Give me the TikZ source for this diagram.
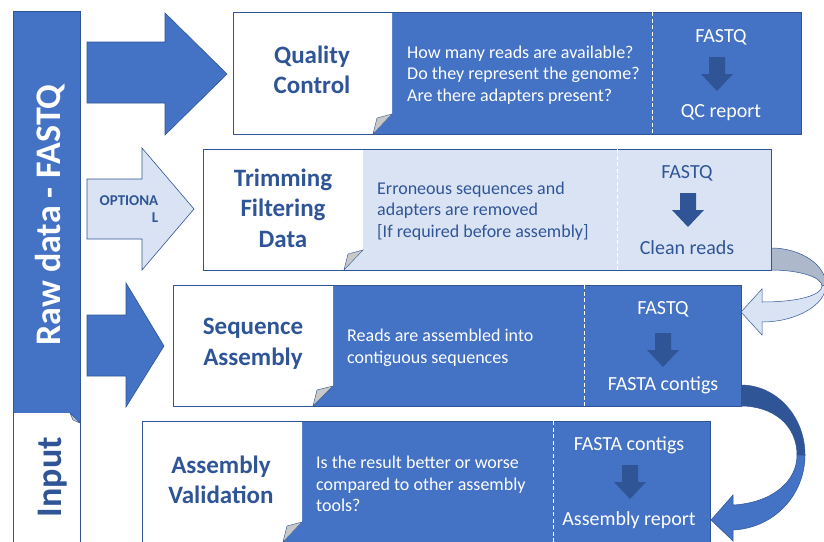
\documentclass[tikz,border=0pt]{standalone}
\usepackage{fontspec}
\setmainfont{Carlito}
\definecolor{officeblue}{HTML}{4472C4}
\definecolor{navy}{HTML}{2F5597}
\definecolor{paleblue}{HTML}{DAE3F3}
\definecolor{foldgrey}{HTML}{C8C8C8}
\definecolor{backgrey}{HTML}{ADB9CA}
\tikzset{
	rowbox/.style = {draw = navy, line width = .8pt},
	fold/.style = {fill = foldgrey, draw = navy, line width = .4pt},
	sepline/.style = {draw = white, dash pattern = on 4pt off 2.5pt, line width = .9pt},
	heading/.style = {font = \fontsize{25}{30.5}\selectfont\bfseries, text = navy, align = center},
	question/.style = {font = \fontsize{18}{21.5}\selectfont, align = left, anchor = west, inner sep = 0pt},
	filetag/.style = {font = \fontsize{20}{24}\selectfont},
	bigarrow/.style = {fill = officeblue, draw = navy, line width = .6pt}
}
\begin{document}
\begin{tikzpicture}[x = 1pt, y = -1pt]
	\useasboundingbox (0,0) rectangle (824,541);
	% input bar
	\fill[officeblue] (13,11) rectangle (80,545);
	\fill[white] (13,413) -- (70,413) -- (80,423) -- (80,545) -- (13,545) -- cycle;
	\draw[fold] (70,413) -- (80,423) -- (73,420) -- cycle;
	\draw[rowbox] (13,11) rectangle (80,545);
	\node[rotate = 90, anchor = base, font = \fontsize{36}{40}\selectfont\bfseries, text = white] (raw) at (60,215) {Raw data - FASTQ};
	\node[rotate = 90, anchor = base, font = \fontsize{36}{40}\selectfont\bfseries, text = navy] (input) at (61,477) {Input};
	% block arrows
	\draw[bigarrow] (87,42) -- (165,42) -- (165,13) -- (227,74) -- (165,135) -- (165,103) -- (87,103) -- cycle;
	\draw[bigarrow, fill = paleblue] (87,179) -- (142,179) -- (142,148) -- (194,209) -- (142,270) -- (142,239) -- (87,239) -- cycle;
	\draw[bigarrow] (87,315) -- (126,315) -- (126,283) -- (164,346) -- (126,407) -- (126,376) -- (87,376) -- cycle;
	\node[font = \fontsize{15}{17}\selectfont\bfseries, text = navy, align = right] (optional) at (129,209) {OPTIONA\\L};
	% curved arrows between rows
	\draw[fill = backgrey, draw = navy, line width = .5pt] (771,248) .. controls (801,248) and (826,265) .. (826,285) -- (822,286) .. controls (822,277) and (799,270) .. (771,270) -- cycle;
	\draw[fill = paleblue, draw = navy, line width = .5pt] (826,285) .. controls (826,305) and (796,322) .. (762,322) -- (762,335) -- (741,312) -- (762,289) -- (762,302) .. controls (799,302) and (822,295) .. (822,286) -- cycle;
	\draw[fill = navy, draw = navy, line width = .5pt] (741,385) .. controls (776,385) and (805,416) .. (805,455) -- (797,455) .. controls (797,425) and (773,406) .. (741,406) -- cycle;
	\draw[fill = officeblue, draw = navy, line width = .5pt] (805,455) .. controls (805,494) and (775,528) .. (733,530) -- (733,541) -- (711,520) -- (733,495) -- (733,505) .. controls (770,503) and (797,483) .. (797,455) -- cycle;
	% quality control
	\fill[officeblue] (233,12) rectangle (801,134);
	\fill[white] (233,12) -- (392,12) -- (392,114) -- (373,134) -- (233,134) -- cycle;
	\draw[fold] (392,114) -- (373,134) -- (377,118) -- cycle;
	\draw[rowbox] (233,12) rectangle (801,134);
	\draw[sepline] (652,12) -- (652,134);
	\node[heading] (qc) at (312,70) {Quality\\Control};
	\node[question, text = white] (qcnote) at (407,75) {How many reads are available?\\Do they represent the genome?\\Are there adapters present?};
	\node[filetag, text = white] (qcin) at (721,37) {FASTQ};
	\node[filetag, text = white] (qcout) at (721,113) {QC report};
	% trimming
	\fill[paleblue] (203,149) rectangle (771,270);
	\fill[white] (203,149) -- (363,149) -- (363,250) -- (344,270) -- (203,270) -- cycle;
	\draw[fold] (363,250) -- (344,270) -- (348,254) -- cycle;
	\draw[rowbox] (203,149) rectangle (771,270);
	\draw[sepline] (617,149) -- (617,270);
	\node[heading] (trim) at (283,208) {Trimming\\Filtering\\Data};
	\node[question, text = navy] (trimnote) at (377,211) {Erroneous sequences and\\adapters are removed\\{[If required before assembly]}};
	\node[filetag, text = navy] (trimin) at (687,173) {FASTQ};
	\node[filetag, text = navy] (trimout) at (687,248) {Clean reads};
	% assembly
	\fill[officeblue] (173,285) rectangle (741,406);
	\fill[white] (173,285) -- (333,285) -- (333,386) -- (313,406) -- (173,406) -- cycle;
	\draw[fold] (333,386) -- (313,406) -- (317,390) -- cycle;
	\draw[rowbox] (173,285) rectangle (741,406);
	\draw[sepline] (584,285) -- (584,406);
	\node[heading] (asm) at (253,344) {Sequence\\Assembly};
	\node[question, text = white] (asmnote) at (347,348) {Reads are assembled into\\contiguous sequences};
	\node[filetag, text = white] (asmin) at (663,309) {FASTQ};
	\node[filetag, text = white] (asmout) at (663,385) {FASTA contigs};
	% validation
	\fill[officeblue] (142,421) rectangle (710,545);
	\fill[white] (142,421) -- (302,421) -- (302,522) -- (283,542) -- (142,542) -- cycle;
	\draw[fold] (302,522) -- (283,542) -- (287,526) -- cycle;
	\draw[rowbox] (142,421) rectangle (710,545);
	\draw[sepline] (553,421) -- (553,545);
	\node[heading] (val) at (221,480) {Assembly\\Validation};
	\node[question, text = white] (valnote) at (316,484) {Is the result better or worse\\compared to other assembly\\tools?};
	\node[filetag, text = white] (valin) at (629,445) {FASTA contigs};
	\node[filetag, text = white] (valout) at (629,520) {Assembly report};
	% down arrows
	\foreach \c/\t/\col in {717/57/navy, 688/193/navy, 663/333/navy, 630/465/navy}
		\fill[\col] (\c-8,\t) -- (\c+8,\t) -- (\c+8,\t+17) -- (\c+16,\t+17) -- (\c,\t+34) -- (\c-16,\t+17) -- (\c-8,\t+17) -- cycle;
\end{tikzpicture}
\end{document}
